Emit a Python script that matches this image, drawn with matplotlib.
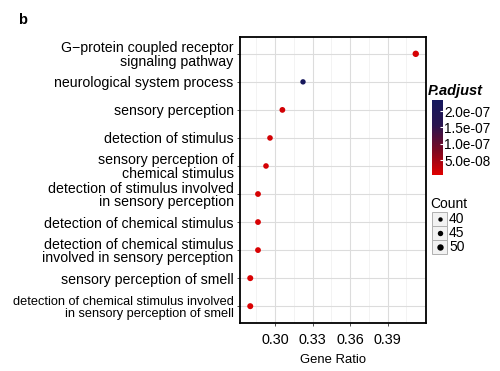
import numpy as np
import matplotlib
matplotlib.use("Agg")
import matplotlib.pyplot as plt
from matplotlib.colors import LinearSegmentedColormap, Normalize
from matplotlib.patches import Rectangle

plt.rcParams['font.family'] = ['Liberation Sans', 'DejaVu Sans']

terms = [
    "G\u2212protein coupled receptor\nsignaling pathway",
    "neurological system process",
    "sensory perception",
    "detection of stimulus",
    "sensory perception of\nchemical stimulus",
    "detection of stimulus involved\nin sensory perception",
    "detection of chemical stimulus",
    "detection of chemical stimulus\ninvolved in sensory perception",
    "sensory perception of smell",
    "detection of chemical stimulus involved\nin sensory perception of smell",
]
gene_ratio = [0.4126, 0.3224, 0.3059, 0.2960, 0.2928, 0.2864, 0.2864, 0.2864, 0.2802, 0.2802]
counts = [50, 45, 47, 46, 46, 47, 47, 47, 48, 48]
p_adjust = [1.2e-8, 2.25e-7, 1.5e-8, 1.4e-8, 1.3e-8, 1.2e-8, 1.1e-8, 1.0e-8, 0.9e-8, 0.8e-8]
x_ticks = [0.30, 0.33, 0.36, 0.39]
cbar_ticks = [5e-8, 1e-7, 1.5e-7, 2e-7]
cbar_labels = ["5.0e-08", "1.0e-07", "1.5e-07", "2.0e-07"]
size_breaks = [40, 45, 50]

W, H = 500, 371
fig = plt.figure(figsize=(W / 100, H / 100), dpi=100)

def fx(px):
    return px / W

def fy(py):
    return 1 - py / H

cmap = LinearSegmentedColormap.from_list("padj", ["#E00000", "#7a0a22", "#2a1550", "#15185e"])
norm = Normalize(vmin=4e-9, vmax=2.34e-7)

def size_of(c):
    d_px = 4.4 + (c - 40) * (6.4 - 4.4) / 10.0
    return (d_px * 0.72) ** 2

ax = fig.add_axes([fx(240), fy(323), fx(426) - fx(240), fy(37) - fy(323)])
n = len(terms)
ypos = np.arange(n)[::-1]
ax.set_ylim(-0.6, n - 1 + 0.6)
ax.set_xlim(0.272, 0.4208)
ax.scatter(gene_ratio, ypos, s=[size_of(c) for c in counts], c=p_adjust, cmap=cmap, norm=norm,
           zorder=3, linewidths=0)
ax.set_yticks(ypos)
labels = ax.set_yticklabels(terms, fontsize=10.2, linespacing=0.98)
labels[-1].set_fontsize(9.2)
labels[-1].set_linespacing(1.08)
ax.set_xticks(x_ticks)
ax.set_xticklabels([f"{t:.2f}" for t in x_ticks], fontsize=10.4)
minor = [x_ticks[0] - 0.015] + [t + 0.015 for t in x_ticks]
ax.set_xticks(minor, minor=True)
ax.tick_params(axis='x', which='minor', length=0)
ax.grid(True, which='major', color='#dcdcdc', linewidth=0.8, zorder=0)
ax.grid(True, which='minor', axis='x', color='#efefef', linewidth=0.5, zorder=0)
ax.set_axisbelow(True)
for sp in ax.spines.values():
    sp.set_linewidth(1.3)
    sp.set_color('black')
ax.tick_params(axis='y', which='major', length=2.5, width=0.6, color='#333333', pad=2)
ax.tick_params(axis='x', which='major', length=2.5, width=0.6, color='#333333', pad=5)
ax.set_xlabel("Gene Ratio", fontsize=9.4, labelpad=5)

# panel letter
fig.text(fx(18), fy(20), "b", fontsize=10.5, fontweight='bold', va='center', ha='left')

# colorbar
cax = fig.add_axes([fx(432), fy(175), fx(443) - fx(432), fy(100) - fy(175)])
grad = np.linspace(norm.vmin, norm.vmax, 256).reshape(-1, 1)
cax.imshow(grad, aspect='auto', cmap=cmap, norm=norm, origin='lower',
           extent=[0, 1, norm.vmin, norm.vmax])
cax.set_xticks([])
cax.yaxis.tick_right()
cax.set_yticks(cbar_ticks)
cax.set_yticklabels(cbar_labels, fontsize=9.8)
cax.tick_params(axis='y', length=2, color='white', direction='in', pad=1.0)
for sp in cax.spines.values():
    sp.set_visible(False)
fig.text(fx(428), fy(91), "P.adjust", fontsize=10.5, fontstyle='italic', fontweight='bold',
         va='center', ha='left')

# size legend
fig.text(fx(430), fy(204), "Count", fontsize=10, va='center', ha='left')
lax = fig.add_axes([0, 0, 1, 1], facecolor='none')
lax.set_xlim(0, W)
lax.set_ylim(H, 0)
lax.axis('off')
key_y = [219, 233, 247]
for yk, c in zip(key_y, size_breaks):
    lax.add_patch(Rectangle((432, yk - 7), 15, 14, facecolor='#f2f2f2', edgecolor='#b0b0b0', linewidth=0.7))
    lax.scatter([439.5], [yk], s=size_of(c), color='black', zorder=3, linewidths=0)
    lax.text(449, yk, str(c), fontsize=10, va='center', ha='left')

fig.savefig("out.png", dpi=100)
